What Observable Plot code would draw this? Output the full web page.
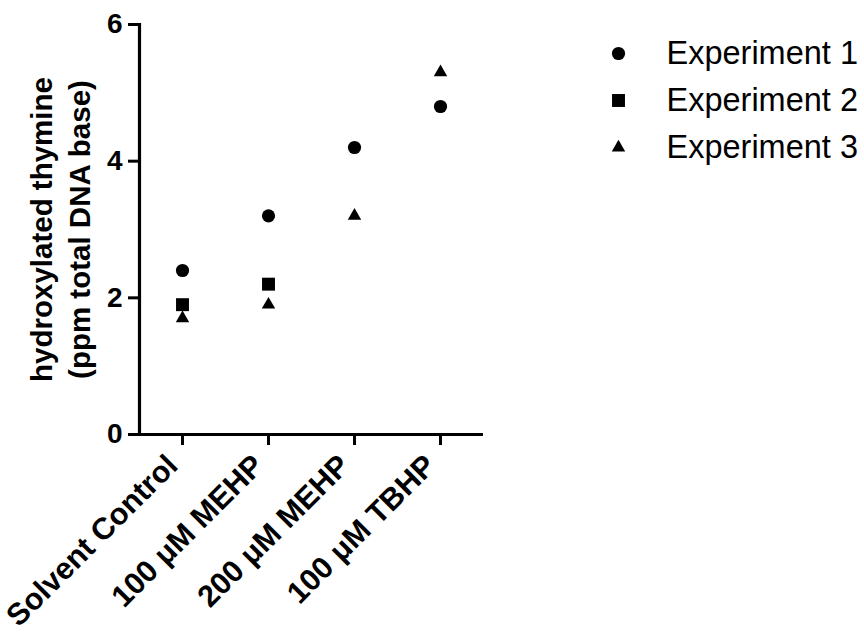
<!DOCTYPE html>
<html>
<head>
<meta charset="utf-8">
<script src="https://cdn.jsdelivr.net/npm/d3@7"></script>
<script src="https://cdn.jsdelivr.net/npm/@observablehq/plot@0.6"></script>
<style>
  html, body { margin: 0; padding: 0; background: #fff; }
  #chart { position: relative; width: 864px; height: 635px; overflow: hidden; }
  #chart svg { position: absolute; }
</style>
</head>
<body>
<div id="chart"></div>
<script>
// Treatment groups along the x axis
const categories = ["Solvent Control", "100 μM MEHP", "200 μM MEHP", "100 μM TBHP"];

// Hydroxylated thymine (ppm total DNA base) per experiment; null = no value shown
const experiment1 = [2.4, 3.2, 4.2, 4.8];
const experiment2 = [1.9, 2.2, null, null];
const experiment3 = [1.7, 1.9, 3.2, 5.3];

const seriesNames = ["Experiment 1", "Experiment 2", "Experiment 3"];
const seriesSymbols = ["circle", "square", "triangle"];
const yTicks = [0, 2, 4, 6];
const yTitle = "hydroxylated thymine\n(ppm total DNA base)";

const font = "'Liberation Sans', Arial, Helvetica, sans-serif";
const symbolRadius = {circle: 6.6, square: 7.3, triangle: 5};

const seriesValues = [experiment1, experiment2, experiment3];
const rows = seriesValues.flatMap((vals, s) =>
  vals.map((v, i) => ({category: categories[i], series: seriesNames[s], symbol: seriesSymbols[s], value: v}))
      .filter(d => d.value != null)
);

const dotMarks = seriesSymbols.map(sym =>
  Plot.dot(rows.filter(d => d.symbol === sym), {
    x: "category", y: "value", symbol: () => sym, r: symbolRadius[sym],
    fill: "black", stroke: "none"
  })
);

const main = Plot.plot({
  width: 864,
  height: 635,
  marginLeft: 139,
  marginRight: 381,
  marginTop: 24,
  marginBottom: 201,
  style: {fontFamily: font, background: "transparent", color: "black"},
  x: {type: "point", domain: categories, padding: 0.5, label: null},
  y: {domain: [0, 6], label: null},
  symbol: {type: "identity"},
  marks: [
    Plot.axisY({ticks: yTicks, tickFormat: "d", tickSize: 11, tickPadding: 6, strokeWidth: 3, fontSize: 28, fontWeight: "bold", label: null}),
    Plot.axisX({tickSize: 11, tickPadding: 4, tickRotate: -45, strokeWidth: 3, label: null, text: null}),
    Plot.axisX({tickSize: 0, tickPadding: 4, tickRotate: -45, dx: -10, dy: 22, fontSize: 30.5, fontWeight: "bold", label: null}),
    Plot.ruleY([0], {strokeWidth: 3.2}),
    Plot.frame({anchor: "left", strokeWidth: 3.2}),
    ...dotMarks,
    Plot.text([yTitle], {
      frameAnchor: "left", textAnchor: "middle", rotate: -90, dx: -81,
      fontSize: 29.5, fontWeight: "bold", lineHeight: 1.29, fill: "black"
    })
  ]
});

// Legend: one row per experiment, symbol followed by its name
const legendRows = seriesNames.map((name, i) => ({name, symbol: seriesSymbols[i]}));
const legend = Plot.plot({
  width: 264,
  height: 200,
  margin: 0,
  style: {fontFamily: font, background: "transparent", color: "black"},
  y: {type: "point", domain: seriesNames, range: [52, 147], padding: 0, axis: null},
  symbol: {type: "identity"},
  marks: [
    ...seriesSymbols.map(sym =>
      Plot.dot(legendRows.filter(d => d.symbol === sym), {
        y: "name", frameAnchor: "left", dx: 18, symbol: () => sym, r: symbolRadius[sym],
        fill: "black", stroke: "none"
      })
    ),
    Plot.text(legendRows, {
      y: "name", text: "name", frameAnchor: "left", dx: 66, textAnchor: "start",
      fontSize: 32.5, fill: "black"
    })
  ]
});

const chart = document.getElementById("chart");
main.style.left = "0px";
main.style.top = "0px";
legend.style.left = "600px";
legend.style.top = "0px";
chart.append(main, legend);
</script>
</body>
</html>
